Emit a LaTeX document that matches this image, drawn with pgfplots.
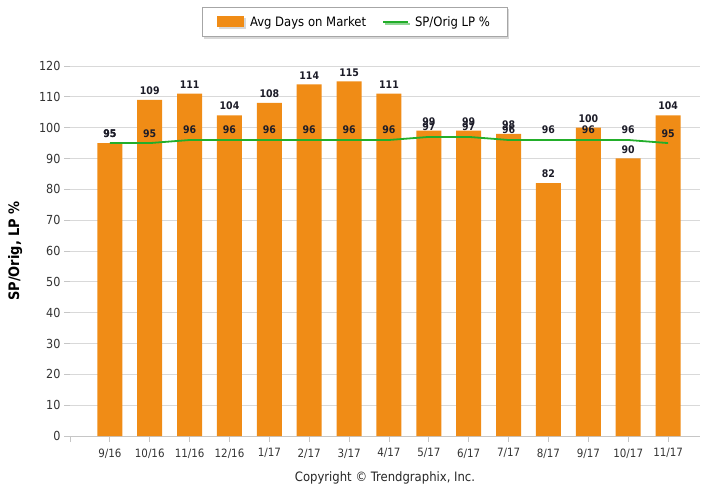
\documentclass[border=0pt]{standalone}
\usepackage{pgfplots}
\pgfplotsset{compat=1.18}
\usepackage{fontspec}
\setmainfont{DejaVu Sans Condensed}
\usetikzlibrary{shadows}
\definecolor{barorange}{HTML}{F08C16}
\definecolor{linegreen}{HTML}{22AE2A}
\definecolor{lblcol}{HTML}{1C1C28}
\begin{document}
\begin{tikzpicture}
\path[use as bounding box] (-70bp,-51bp) rectangle (634bp,436bp);
\begin{axis}[
  at={(0,0)}, anchor=south west,
  scale only axis, width=630bp, height=370bp,
  xmin=-1, xmax=14.8, ymin=0, ymax=120,
  ytick={0,10,...,120},
  xtick={-1,0,...,14},
  xticklabels={,9/16,10/16,11/16,12/16,1/17,2/17,3/17,4/17,5/17,6/17,7/17,8/17,9/17,10/17,11/17},
  axis lines*=left,
  y axis line style={draw=none},
  x axis line style={draw=gray!45, line width=1bp},
  ymajorgrids, grid style={gray!30, line width=0.8bp},
  tick align=outside, major tick length=6bp,
  tick style={gray!45, line width=0.8bp},
  /pgf/number format/assume math mode=true,
  yticklabel style={font=\fontsize{12.5}{14}\selectfont, text=black!80},
  xticklabel style={font=\fontsize{11.5}{13}\selectfont, text=black!80, yshift=-3bp},
  ylabel={SP/Orig, LP \%},
  ylabel style={at={(axis description cs:-0.087,0.5)}, anchor=center, font=\bfseries\fontsize{14.5}{16}\selectfont},
  clip=false,
  legend columns=2,
  legend style={at={(axis description cs:0.4516,1.119)}, anchor=center,
    draw=gray!70, fill=white, drop shadow={shadow xshift=2bp, shadow yshift=-2bp, fill=gray!60},
    font=\fontsize{13}{15}\selectfont, inner xsep=15bp, inner ysep=7bp,
    /tikz/every odd column/.append style={column sep=4bp},
    /tikz/every even column/.append style={column sep=14bp}},
]
\addplot[ybar, bar width=25bp, fill=barorange, draw=none,
  nodes near coords,
  every node near coord/.append style={font=\bfseries\fontsize{10.5}{12}\selectfont, text=lblcol, anchor=south, inner sep=1bp, yshift=4bp},
  legend image code/.code={\fill[barorange] (0bp,-5.5bp) rectangle (27bp,5.5bp);}]
coordinates {(0,95) (1,109) (2,111) (3,104) (4,108) (5,114) (6,115) (7,111) (8,99) (9,99) (10,98) (11,82) (12,100) (13,90) (14,104)};
\addlegendentry{Avg Days on Market}
\addplot[linegreen, line width=1.8bp, mark=none,
  nodes near coords,
  every node near coord/.append style={font=\bfseries\fontsize{10.5}{12}\selectfont, text=lblcol, anchor=south, inner sep=1bp, yshift=4bp},
  legend image code/.code={\draw[linegreen, line width=1.8bp] (0bp,0bp) -- (25bp,0bp);}]
coordinates {(0,95) (1,95) (2,96) (3,96) (4,96) (5,96) (6,96) (7,96) (8,97) (9,97) (10,96) (11,96) (12,96) (13,96) (14,95)};
\addlegendentry{SP/Orig LP \%}
\node[font=\fontsize{13}{15}\selectfont, text=black!85] at (rel axis cs:0.5,0) [yshift=-42bp] {Copyright \textcopyright\ Trendgraphix, Inc.};
\end{axis}
\end{tikzpicture}
\end{document}
